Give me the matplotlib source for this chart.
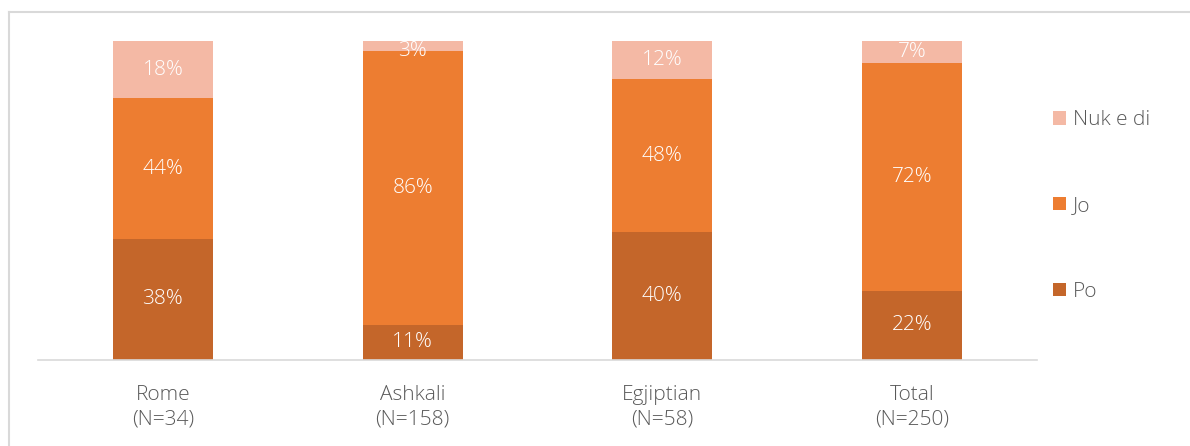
import matplotlib
matplotlib.use("Agg")
import matplotlib.pyplot as plt
from matplotlib.lines import Line2D
import numpy as np

categories = ["Rome\n(N=34)", "Ashkali\n(N=158)", "Egjiptian\n(N=58)", "Total\n(N=250)"]
po = [38, 11, 40, 22]
jo = [44, 86, 48, 72]
nuk = [18, 3, 12, 7]
series_names = ["Po", "Jo", "Nuk e di"]
colors = ["#C4662A", "#ED7D31", "#F4B9A5"]

plt.rcParams['font.family'] = ['Open Sans', 'DejaVu Sans']

W, H = 1190, 446
fig = plt.figure(figsize=(W/100, H/100), dpi=100)
ax = fig.add_axes([38/W, (H-360)/H, (1037-38)/W, (360-41)/H])

data = np.array([po, jo, nuk], dtype=float)
totals = data.sum(axis=0)
norm = data / totals * 100
x = np.arange(len(categories))
bottom = np.zeros(len(categories))
handles = []
for i, name in enumerate(series_names):
    bars = ax.bar(x, norm[i], bottom=bottom, width=0.4, color=colors[i], label=name)
    for j in range(len(x)):
        yc = min(bottom[j] + norm[i][j]/2, 96.9)  # keep label inside plot area
        ax.text(x[j], yc, f"{int(data[i][j])}%", ha='center', va='center',
                color='white', fontsize=15, fontweight='light')
    bottom += norm[i]
    handles.append(bars)

ax.set_xlim(-0.5, len(categories)-0.5)
ax.set_ylim(0, 100)
for s in ['top', 'right', 'left']:
    ax.spines[s].set_visible(False)
ax.spines['bottom'].set_color('#D9D9D9')
ax.spines['bottom'].set_linewidth(1.2)
ax.set_yticks([])
ax.set_xticks(x)
ax.set_xticklabels(categories, fontsize=15, color='#595959', fontweight='light', linespacing=1.3)
ax.tick_params(axis='x', length=0, pad=18)

leg = fig.legend([handles[2], handles[1], handles[0]], ["Nuk e di", "Jo", "Po"],
                 loc='center left', bbox_to_anchor=(1034/W, (H-206)/H), frameon=False,
                 fontsize=15, labelcolor='#595959', handlelength=0.62, handleheight=0.62,
                 handletextpad=0.35, labelspacing=3.15)
for t in leg.get_texts():
    t.set_fontweight('light')

# outer border
fig.add_artist(Line2D([9/W, 9/W], [0, (H-12)/H], color='#D9D9D9', lw=1.5, transform=fig.transFigure))
fig.add_artist(Line2D([9/W, 1], [(H-12)/H, (H-12)/H], color='#D9D9D9', lw=1.5, transform=fig.transFigure))

fig.savefig("out.png", dpi=100)
